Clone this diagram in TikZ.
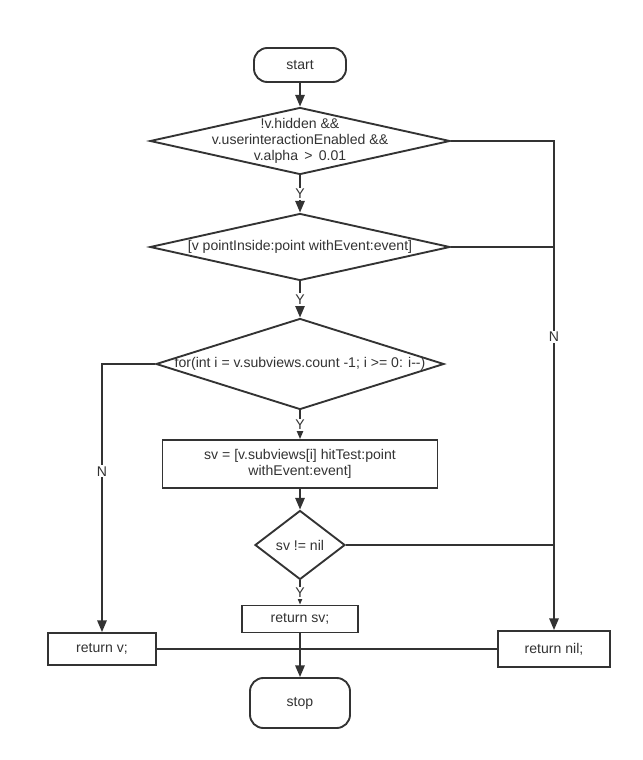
\documentclass[tikz,border=0pt]{standalone}
\usepackage{fontspec}
\setmainfont{Liberation Sans}
\usepackage{xcolor}
\usepackage{tikz}
\usetikzlibrary{shapes.geometric, arrows.meta, positioning}
\definecolor{flowgray}{HTML}{333333}

\tikzset{
	every node/.style={font=\fontsize{12}{13.6}\selectfont, text=flowgray},
	line/.style={draw=flowgray, line width=1.6pt},
	arr/.style={line, -{Triangle[length=10pt,width=8pt]}},
	term/.style={draw=flowgray, line width=1.6pt, rounded corners=0.4cm, fill=white},
	proc/.style={draw=flowgray, line width=1.6pt, fill=white},
	cond/.style={diamond, draw=flowgray, line width=1.6pt, inner sep=0pt, fill=white},
	yes/.style={fill=white, inner sep=1pt, midway},
}

\begin{document}
\begin{tikzpicture}[x=0.03cm, y=-0.03cm]
	\useasboundingbox (0,0) rectangle (642,760);

	% shapes
	\node[term, minimum width=2.76cm, minimum height=1.02cm] (start) at (300,65) {start};
	\node[cond, minimum width=9cm, minimum height=2.01cm,
		label={[align=center]center:!v.hidden \&\&\\v.userinteractionEnabled \&\&\\v.alpha \,>\, 0.01}] (visible) at (300,141) {};
	\node[cond, minimum width=9cm, minimum height=2.01cm,
		label={center:[v pointInside:point withEvent:event]}] (inside) at (300,247) {};
	\node[cond, minimum width=8.64cm, minimum height=2.73cm,
		label={center:for(int i = v.subviews.count -1; i >= 0: i-{}-)}] (loop) at (300,364) {};
	\node[proc, minimum width=8.25cm, minimum height=1.44cm, align=center] (hit) at (300,464) {sv = [v.subviews[i] hitTest:point\\withEvent:event]};
	\node[cond, minimum width=2.7cm, minimum height=2.07cm, label={center:sv != nil}] (found) at (300,545) {};
	\node[proc, minimum width=3.48cm, minimum height=0.81cm] (retsv) at (300,619) {return sv;};
	\node[proc, minimum width=3.24cm, minimum height=0.96cm] (retv) at (102,649) {return v;};
	\node[proc, minimum width=3.36cm, minimum height=1.08cm] (retnil) at (554,649) {return nil;};
	\node[term, minimum width=3cm, minimum height=1.5cm] (stop) at (300,703) {stop};

	% main flow
	\draw[arr] (start) -- (visible);
	\draw[arr] (visible) -- node[yes] {Y} (inside);
	\draw[arr] (inside) -- node[yes] {Y} (loop);
	\draw[arr] (loop) -- node[yes] {Y} (hit);
	\draw[arr] (hit) -- (found);
	\draw[arr] (found) -- node[yes] {Y} (retsv);
	\draw[arr] (retsv) -- (stop);

	% no branches
	\draw[arr] (visible.east) -| node[pos=0.7, fill=white, inner sep=1pt] {N} (retnil.north);
	\draw[line] (inside.east) -- (inside.east -| retnil);
	\draw[line] (found.east) -- (found.east -| retnil);
	\draw[arr] (loop.west) -| node[pos=0.7, fill=white, inner sep=1pt] {N} (retv.north);

	% join to stop
	\draw[line] (retv.east) -- (retv.east -| stop);
	\draw[line] (retnil.west) -- (retnil.west -| stop);
\end{tikzpicture}
\end{document}
